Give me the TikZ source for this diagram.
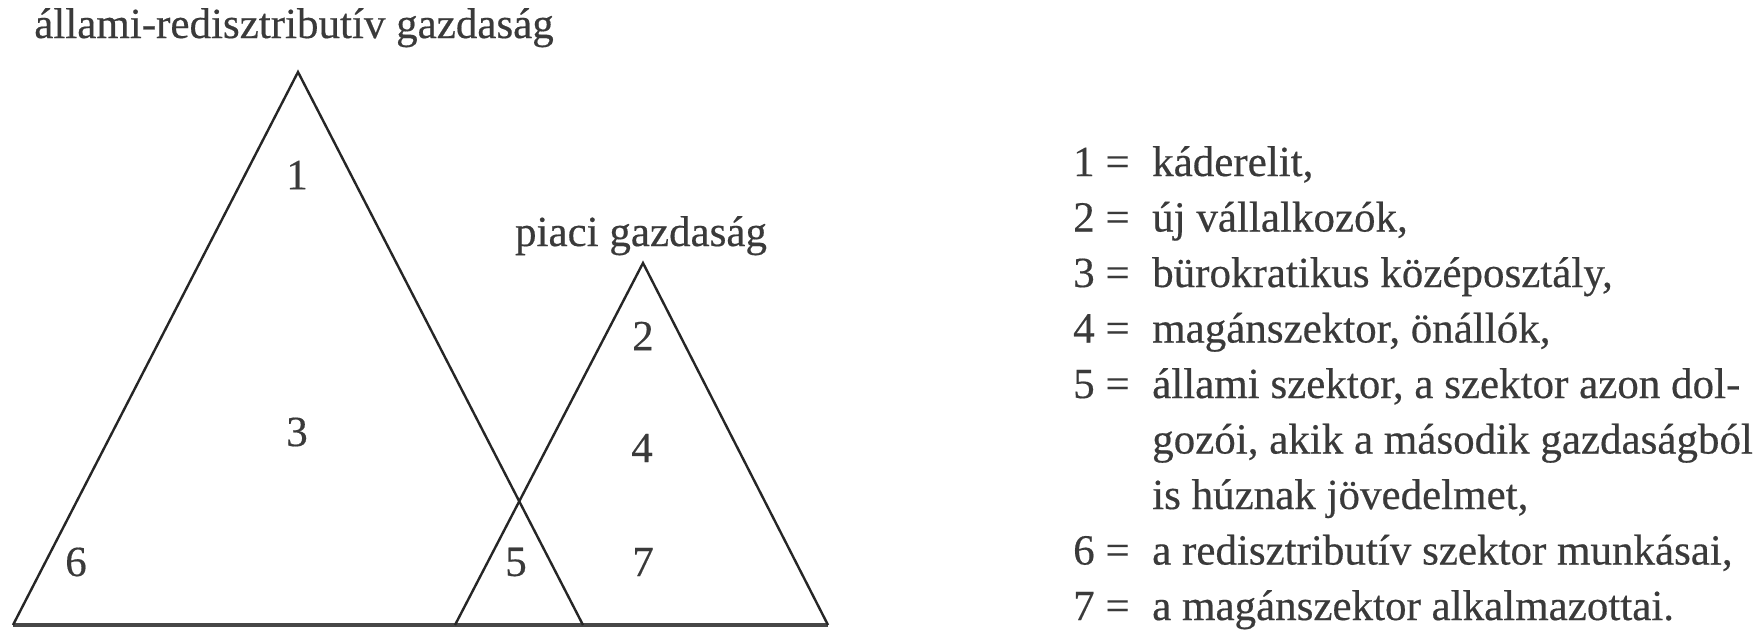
\documentclass[tikz,border=0pt]{standalone}
\usepackage{fontspec}
\setmainfont{Liberation Serif}
\newfontfamily\scanfont{Liberation Serif}[FakeBold=0.4]
\definecolor{ink}{HTML}{262626}
\definecolor{txt}{HTML}{3A3A3A}
\tikzset{
  side/.style={draw=ink, line width=2.4pt, line join=miter},
  baseln/.style={draw=ink!85, line width=4pt},
  lbl/.style={inner sep=0pt, text=txt, font=\scanfont\fontsize{43}{50}\selectfont},
  keynum/.style={lbl, anchor=base west},
  keytxt/.style={lbl, anchor=base west}
}
\begin{document}
\begin{tikzpicture}[x=1pt,y=-1pt]
\path[use as bounding box, fill=white] (0,0) rectangle (1760,630);
% triangles
\coordinate (A1) at (298,72);
\coordinate (L1) at (13,625);
\coordinate (R1) at (583,625);
\coordinate (A2) at (643,263);
\coordinate (L2) at (455,625);
\coordinate (R2) at (828,625);
\draw[baseln] (L1) -- (R2);
\draw[side] (L1) -- (A1) -- (R1);
\draw[side] (L2) -- (A2) -- (R2);
% titles
\node[lbl, anchor=base] (t1) at (294,38) {állami-redisztributív gazdaság};
\node[lbl, anchor=base] (t2) at (641,246) {piaci gazdaság};
% region numbers
\node[lbl] (n1) at (297,175) {1};
\node[lbl] (n3) at (297,432) {3};
\node[lbl] (n6) at (76,562) {6};
\node[lbl] (n5) at (516,562) {5};
\node[lbl] (n2) at (643,336) {2};
\node[lbl] (n4) at (642,448) {4};
\node[lbl] (n7) at (643,562) {7};
% legend
\node[keynum] (k1) at (1073,176) {1 =};
\node[keytxt] (d1) at (1152,176) {káderelit,};
\node[keynum] (k2) at (1073,231.5) {2 =};
\node[keytxt] (d2) at (1152,231.5) {új vállalkozók,};
\node[keynum] (k3) at (1073,287) {3 =};
\node[keytxt] (d3) at (1152,287) {bürokratikus középosztály,};
\node[keynum] (k4) at (1073,342.5) {4 =};
\node[keytxt] (d4) at (1152,342.5) {magánszektor, önállók,};
\node[keynum] (k5) at (1073,398) {5 =};
\node[keytxt] (d5) at (1152,398) {állami szektor, a szektor azon dol-};
\node[keytxt] (d5b) at (1152,453.5) {gozói, akik a második gazdaságból};
\node[keytxt] (d5c) at (1152,509) {is húznak jövedelmet,};
\node[keynum] (k6) at (1073,564.5) {6 =};
\node[keytxt] (d6) at (1152,564.5) {a redisztributív szektor munkásai,};
\node[keynum] (k7) at (1073,620) {7 =};
\node[keytxt] (d7) at (1152,620) {a magánszektor alkalmazottai.};
\end{tikzpicture}
\end{document}
